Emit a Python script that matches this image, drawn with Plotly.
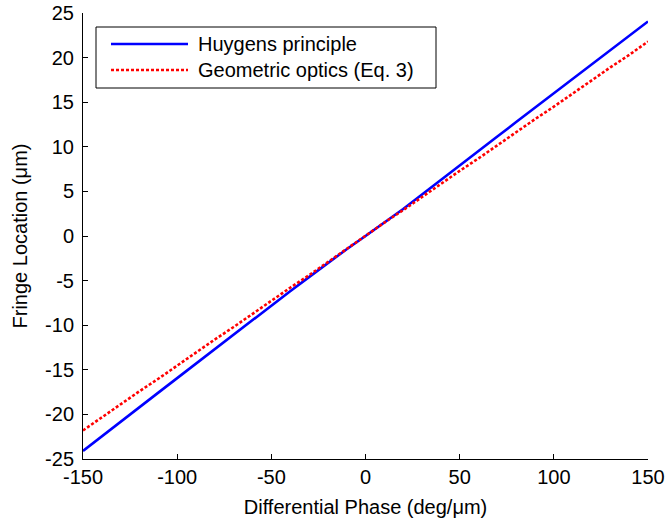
import plotly.graph_objects as go

# Data
phase_deg_per_um = [-150, -140, -130, -120, -110, -100, -90, -80, -70, -60, -50, -40, -30, -20, -10,
                    0, 10, 20, 30, 40, 50, 60, 70, 80, 90, 100, 110, 120, 130, 140, 150]
huygens_um = [-24.10, -22.44, -20.82, -19.19, -17.56, -15.93, -14.30, -12.67, -11.02, -9.39, -7.77,
              -6.19, -4.61, -3.03, -1.48, 0.0, 1.48, 3.03, 4.66, 6.26, 7.89, 9.52, 11.15, 12.77,
              14.38, 15.98, 17.58, 19.19, 20.81, 22.42, 24.05]
geometric_um = [-21.8, -20.3, -18.9, -17.4, -16.0, -14.5, -13.1, -11.6, -10.2, -8.7, -7.3, -5.8,
                -4.4, -2.9, -1.5, 0.0, 1.5, 2.9, 4.4, 5.8, 7.3, 8.7, 10.2, 11.6, 13.1, 14.5, 16.0,
                17.4, 18.9, 20.3, 21.8]
series_names = ["Huygens principle", "Geometric optics (Eq. 3)"]
x_ticks = [-150, -100, -50, 0, 50, 100, 150]
y_ticks = [-25, -20, -15, -10, -5, 0, 5, 10, 15, 20, 25]

FONT = "Liberation Sans, Arial, sans-serif"
FS = 20
BLUE = "#0000FF"
RED = "#FF0000"

fig = go.Figure()
fig.add_trace(go.Scatter(x=phase_deg_per_um, y=huygens_um, mode="lines", name=series_names[0],
                         line=dict(color=BLUE, width=2.6), showlegend=False))
fig.add_trace(go.Scatter(x=phase_deg_per_um, y=geometric_um, mode="lines", name=series_names[1],
                         line=dict(color=RED, width=2.6, dash="3px,2px"), showlegend=False))

W, H = 666, 524
L, R, T, B = 83, 18, 13, 65
pw, ph = W - L - R, H - T - B

def px(x):
    return (x - L) / pw

def py(y):
    return (H - B - y) / ph

shapes = [
    dict(type="rect", xref="paper", yref="paper", x0=px(96), x1=px(436), y0=py(88), y1=py(27),
         line=dict(color="black", width=1), fillcolor="white", layer="above"),
    dict(type="line", xref="paper", yref="paper", x0=px(111), x1=px(188), y0=py(44), y1=py(44),
         line=dict(color=BLUE, width=2.6), layer="above"),
    dict(type="line", xref="paper", yref="paper", x0=px(111), x1=px(188), y0=py(70), y1=py(70),
         line=dict(color=RED, width=2.6, dash="3px,2px"), layer="above"),
]
annotations = [
    dict(xref="paper", yref="paper", x=px(196), y=py(44), text=series_names[0], showarrow=False,
         xanchor="left", yanchor="middle", font=dict(family=FONT, size=FS, color="black")),
    dict(xref="paper", yref="paper", x=px(196), y=py(70), text=series_names[1], showarrow=False,
         xanchor="left", yanchor="middle", font=dict(family=FONT, size=FS, color="black")),
]

fig.update_layout(
    width=W, height=H,
    margin=dict(l=L, r=R, t=T, b=B, pad=0, autoexpand=False),
    paper_bgcolor="white", plot_bgcolor="white",
    font=dict(family=FONT, size=FS, color="black"),
    shapes=shapes, annotations=annotations,
    showlegend=False,
)
fig.update_xaxes(range=[-150, 150], tickvals=x_ticks, ticktext=[str(v) for v in x_ticks],
                 showgrid=False, zeroline=False, showline=True, linecolor="black", linewidth=1,
                 ticks="inside", ticklen=5, tickcolor="black", tickwidth=1, mirror=False,
                 automargin=False, ticklabelstandoff=0,
                 title=dict(text="Differential Phase (deg/μm)", standoff=12,
                            font=dict(family=FONT, size=FS)))
fig.update_yaxes(range=[-25, 25], tickvals=y_ticks, ticktext=[str(v) for v in y_ticks],
                 showgrid=False, zeroline=False, showline=True, linecolor="black", linewidth=1,
                 ticks="inside", ticklen=5, tickcolor="black", tickwidth=1, mirror=False,
                 automargin=False, ticklabelstandoff=4,
                 title=dict(text="Fringe Location (μm)", standoff=12,
                            font=dict(family=FONT, size=FS)))

fig.write_html("out.html")
